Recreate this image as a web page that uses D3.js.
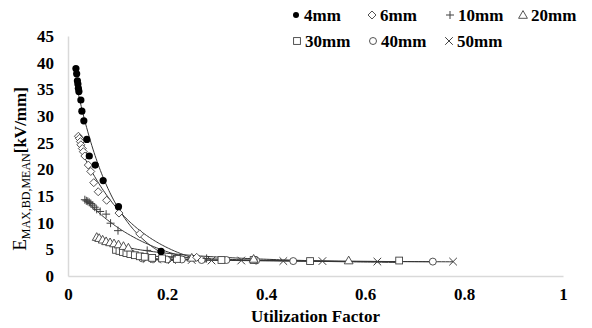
<!DOCTYPE html>
<html>
<head>
<meta charset="utf-8">
<script src="https://cdn.jsdelivr.net/npm/d3@7"></script>
<style>
  html, body { margin: 0; padding: 0; background: #fff; }
  svg { display: block; }
</style>
</head>
<body>
<div id="chart"></div>
<script>
// values: [utilization factor, E (kV/mm)]
const s4mm = [[0.016, 38.9], [0.0175, 37.9], [0.019, 36.6], [0.020, 36.0], [0.021, 35.2], [0.022, 34.6],
  [0.026, 33.0], [0.028, 30.9], [0.032, 29.1], [0.038, 25.6], [0.043, 22.5], [0.055, 20.8],
  [0.071, 17.9], [0.102, 13.0], [0.188, 4.6]];
const s6mm = [[0.021, 26.2], [0.023, 25.8], [0.025, 25.2], [0.026, 24.6], [0.029, 23.9], [0.031, 23.3],
  [0.034, 22.5], [0.041, 20.8], [0.046, 19.6], [0.052, 17.5], [0.061, 15.8], [0.078, 14.2],
  [0.103, 11.8], [0.145, 7.9], [0.26, 3.5]];
const s10mm = [[0.034, 14.3], [0.037, 14.1], [0.040, 14.0], [0.043, 13.8], [0.046, 13.6], [0.050, 13.3],
  [0.054, 12.9], [0.058, 12.5], [0.065, 12.1], [0.077, 11.6], [0.086, 9.9], [0.101, 8.5],
  [0.160, 4.8], [0.21, 3.6], [0.28, 3.3]];
const s20mm = [[0.058, 7.3], [0.063, 7.1], [0.070, 6.8], [0.077, 6.5], [0.085, 6.3], [0.093, 6.1],
  [0.102, 5.9], [0.112, 5.6], [0.122, 5.3], [0.25, 3.4], [0.375, 3.2], [0.567, 2.9]];
const s30mm = [[0.097, 4.9], [0.104, 4.7], [0.111, 4.5], [0.118, 4.3], [0.126, 4.1], [0.135, 3.9],
  [0.145, 3.7], [0.155, 3.6], [0.17, 3.4], [0.19, 3.3], [0.22, 3.2], [0.31, 3.0], [0.375, 3.0],
  [0.489, 2.8], [0.669, 2.9]];
const s40mm = [[0.15, 3.3], [0.17, 3.2], [0.20, 3.1], [0.23, 3.1], [0.27, 3.0], [0.32, 3.0],
  [0.38, 2.9], [0.455, 2.8], [0.737, 2.7]];
const s50mm = [[0.16, 3.2], [0.18, 3.1], [0.21, 3.0], [0.25, 3.0], [0.29, 2.9], [0.35, 2.9],
  [0.435, 2.8], [0.514, 2.8], [0.625, 2.7], [0.778, 2.7]];

const seriesNames = ['4mm', '6mm', '10mm', '20mm', '30mm', '40mm', '50mm'];
const seriesData = [s4mm, s6mm, s10mm, s20mm, s30mm, s40mm, s50mm];
const markerKinds = ['dot', 'diamond', 'plus', 'triangle', 'square', 'circle', 'cross'];
const fitKinds = ['exp', 'exp', 'exp', 'power', 'power', 'power', 'power'];
const xTicks = [0, 0.2, 0.4, 0.6, 0.8, 1];
const yTicks = [0, 5, 10, 15, 20, 25, 30, 35, 40, 45];

const W = 592, H = 328;
const FONT = '"Times New Roman", "Liberation Serif", serif';
const INK = '#404040';

const x = d3.scaleLinear().domain([0, 1]).range([68, 563]);
const y = d3.scaleLinear().domain([0, 45]).range([276, 36]);

const svg = d3.select('#chart').append('svg').attr('width', W).attr('height', H);

// axes: light grey lines, no tick marks
const xAxis = svg.append('g')
  .attr('transform', `translate(0,${y(0)})`)
  .call(d3.axisBottom(x).tickValues(xTicks).tickSize(0).tickPadding(12).tickFormat(d3.format('')));
xAxis.select('.domain').attr('stroke', '#d9d9d9').attr('stroke-width', 1.5);
xAxis.selectAll('.tick text')
  .attr('fill', '#000').attr('font-size', 17).attr('font-weight', 700).attr('font-family', FONT);

const yAxis = svg.append('g')
  .attr('transform', `translate(${x(0)},0)`)
  .call(d3.axisLeft(y).tickValues(yTicks).tickSize(0).tickPadding(14));
yAxis.select('.domain').attr('stroke', '#d9d9d9').attr('stroke-width', 1.5);
yAxis.selectAll('.tick text')
  .attr('fill', '#000').attr('font-size', 17).attr('font-weight', 700).attr('font-family', FONT);

svg.append('text')
  .attr('x', (x(0) + x(1)) / 2)
  .attr('y', 322)
  .attr('text-anchor', 'middle')
  .attr('font-size', 17).attr('font-weight', 700).attr('font-family', FONT)
  .text('Utilization Factor');

const yLab = svg.append('text')
  .attr('transform', `translate(26,${169}) rotate(-90)`)
  .attr('text-anchor', 'middle')
  .attr('font-family', FONT)
  .attr('fill', '#000');
yLab.append('tspan').attr('font-size', 19).text('E');
yLab.append('tspan').attr('font-size', 12).attr('dy', 4).text('MAX,BD,MEAN');
yLab.append('tspan').attr('font-size', 17).attr('font-weight', 700).attr('dy', -4).text('[kV/mm]');

// least-squares trendlines, like a spreadsheet's exponential / power fits
function fit(points, kind) {
  const xs = points.map((p) => (kind === 'power' ? Math.log(p[0]) : p[0]));
  const ys = points.map((p) => Math.log(p[1]));
  const mx = d3.mean(xs), my = d3.mean(ys);
  const b = d3.sum(xs, (v, i) => (v - mx) * (ys[i] - my)) / d3.sum(xs, (v) => (v - mx) * (v - mx));
  const a = Math.exp(my - b * mx);
  return kind === 'power' ? (u) => a * Math.pow(u, b) : (u) => a * Math.exp(b * u);
}

const line = d3.line().x((d) => x(d[0])).y((d) => y(d[1]));
const plot = svg.append('g');

seriesData.forEach((data, i) => {
  const f = fit(data, fitKinds[i]);
  const [u0, u1] = d3.extent(data, (d) => d[0]);
  const pts = d3.range(0, 81).map((k) => {
    const u = u0 + (u1 - u0) * k / 80;
    return [u, f(u)];
  });
  plot.append('path')
    .attr('d', line(pts))
    .attr('fill', 'none')
    .attr('stroke', '#333')
    .attr('stroke-width', 1);
});

function drawMarker(g, kind, cx, cy) {
  if (kind === 'dot') {
    g.append('circle').attr('cx', cx).attr('cy', cy).attr('r', 3.6).attr('fill', '#000');
  } else if (kind === 'diamond') {
    const s = 4;
    g.append('path')
      .attr('d', `M${cx},${cy - s}L${cx + s},${cy}L${cx},${cy + s}L${cx - s},${cy}Z`)
      .attr('fill', '#fff').attr('stroke', INK).attr('stroke-width', 0.9);
  } else if (kind === 'plus') {
    const s = 4;
    g.append('path')
      .attr('d', `M${cx - s},${cy}H${cx + s}M${cx},${cy - s}V${cy + s}`)
      .attr('stroke', INK).attr('stroke-width', 1);
  } else if (kind === 'triangle') {
    const s = 4.4;
    g.append('path')
      .attr('d', `M${cx},${cy - s}L${cx + s},${cy + s * 0.75}L${cx - s},${cy + s * 0.75}Z`)
      .attr('fill', '#fff').attr('stroke', INK).attr('stroke-width', 0.9);
  } else if (kind === 'square') {
    const s = 3.4;
    g.append('rect').attr('x', cx - s).attr('y', cy - s).attr('width', s * 2).attr('height', s * 2)
      .attr('fill', '#fff').attr('stroke', INK).attr('stroke-width', 0.9);
  } else if (kind === 'circle') {
    g.append('circle').attr('cx', cx).attr('cy', cy).attr('r', 3.5)
      .attr('fill', '#fff').attr('stroke', INK).attr('stroke-width', 0.9);
  } else if (kind === 'cross') {
    const s = 3.8;
    g.append('path')
      .attr('d', `M${cx - s},${cy - s}L${cx + s},${cy + s}M${cx - s},${cy + s}L${cx + s},${cy - s}`)
      .attr('stroke', INK).attr('stroke-width', 1);
  }
}

// draw from the last series to the first so the dense early series sit on top
for (let i = seriesData.length - 1; i >= 0; i--) {
  const g = plot.append('g');
  seriesData[i].forEach((d) => drawMarker(g, markerKinds[i], x(d[0]), y(d[1])));
}

// legend, two rows
const legendPos = [[296, 15], [372, 15], [450, 15], [523, 15], [297, 41], [373, 41], [449, 41]];
const legend = svg.append('g');
seriesNames.forEach((name, i) => {
  const [lx, ly] = legendPos[i];
  const row = legend.append('g');
  const kind = markerKinds[i];
  if (kind === 'dot') {
    row.append('circle').attr('cx', lx).attr('cy', ly).attr('r', 3).attr('fill', '#000');
  } else {
    drawMarker(row, kind, lx, ly);
  }
  row.append('text')
    .attr('x', lx + 8)
    .attr('y', ly + 6)
    .attr('font-size', 17).attr('font-weight', 700).attr('font-family', FONT)
    .text(name);
});
</script>
</body>
</html>
